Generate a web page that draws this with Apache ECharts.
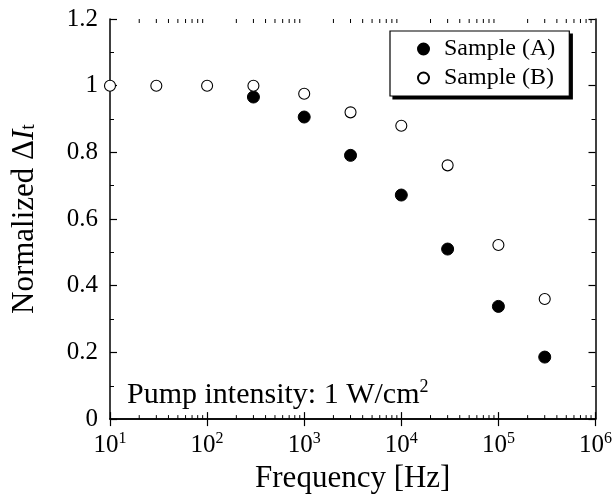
<!DOCTYPE html>
<html><head><meta charset="utf-8">
<script src="https://cdn.jsdelivr.net/npm/echarts@6/dist/echarts.min.js"></script>
<style>html,body{margin:0;padding:0;background:#fff}#c{width:615px;height:499px}</style>
</head><body><div id="c"></div>
<script>
const freqA = [300, 1000, 3000, 10000, 30000, 100000, 300000];
const valuesA = [0.966, 0.906, 0.791, 0.672, 0.51, 0.338, 0.186];
const freqB = [10, 30, 100, 300, 1000, 3000, 10000, 30000, 100000, 300000];
const valuesB = [1.0, 1.0, 1.0, 1.0, 0.976, 0.92, 0.88, 0.761, 0.522, 0.36];
const xMin = 10, xMax = 1000000;
const yTicks = ['0', '0.2', '0.4', '0.6', '0.8', '1', '1.2'];
// minor tick positions on the log axis (2..9 in each decade)
const minorMults = [2, 3, 4, 5, 6, 7, 8, 9];
const decades = [10, 100, 1000, 10000, 100000];
const minorTicks = [];
decades.forEach(d => minorMults.forEach(m => minorTicks.push(m * d)));

const FONT = 'Liberation Serif';
const chart = echarts.init(document.getElementById('c'));
const axisCommon = {
  axisLine: {show: true, lineStyle: {color: '#000', width: 1.5}},
  splitLine: {show: false},
};
chart.setOption({
  backgroundColor: '#fff',
  animation: false,
  grid: {left: 110, right: 18, top: 19, bottom: 76, containLabel: false},
  legend: {
    data: ['Sample (A)', 'Sample (B)'],
    orient: 'vertical',
    left: 390, top: 31,
    padding: [6, 14, 6, 27],
    itemGap: 5,
    itemWidth: 11, itemHeight: 11,
    backgroundColor: '#fff',
    borderColor: '#000', borderWidth: 1.2,
    textStyle: {fontFamily: FONT, fontSize: 24, color: '#000', padding: [0, 0, 0, 10]}
  },
  xAxis: [
    Object.assign({}, axisCommon, {
      type: 'log', min: xMin, max: xMax, logBase: 10,
      name: 'Frequency [Hz]', nameLocation: 'middle', nameGap: 35,
      nameTextStyle: {fontFamily: FONT, fontSize: 31, color: '#000'},
      axisTick: {show: true, inside: true, length: 7, lineStyle: {color: '#000', width: 1.2}},
      axisLabel: {
        margin: 12, color: '#000',
        formatter: v => '{b|10}{s|' + Math.round(Math.log10(v)) + '}',
        rich: {
          b: {fontFamily: FONT, fontSize: 25, color: '#000'},
          s: {fontFamily: FONT, fontSize: 16, color: '#000', padding: [0, 0, 13, 0]}
        }
      }
    }),
    Object.assign({}, axisCommon, {
      type: 'log', min: xMin, max: xMax, logBase: 10, position: 'top',
      axisTick: {show: true, inside: true, length: 7, lineStyle: {color: '#000', width: 1.2}},
      axisLabel: {show: false}
    })
  ],
  yAxis: [
    Object.assign({}, axisCommon, {
      type: 'value', min: 0, max: 1.2, interval: 0.2,
      name: '{a|Normalized Δ}{i|I}{t|t}', nameLocation: 'middle', nameGap: 70,
      nameTextStyle: {
        rich: {
          a: {fontFamily: FONT, fontSize: 31, color: '#000'},
          i: {fontFamily: FONT, fontSize: 31, color: '#000', fontStyle: 'italic'},
          t: {fontFamily: FONT, fontSize: 20, color: '#000', padding: [0, 0, -8, 0]}
        }
      },
      axisTick: {show: true, inside: true, length: 7, lineStyle: {color: '#000', width: 1.2}},
      minorTick: {show: true, splitNumber: 2, length: 4, lineStyle: {color: '#000', width: 1}},
      axisLabel: {
        margin: 12, color: '#000', fontFamily: FONT, fontSize: 25,
        formatter: (v) => yTicks[Math.round(v / 0.2)]
      }
    }),
    Object.assign({}, axisCommon, {
      type: 'value', min: 0, max: 1.2, interval: 0.2, position: 'right',
      axisTick: {show: true, inside: true, length: 7, lineStyle: {color: '#000', width: 1.2}},
      minorTick: {show: true, splitNumber: 2, length: 4, lineStyle: {color: '#000', width: 1}},
      axisLabel: {show: false}
    })
  ],
  graphic: [{
    type: 'text', left: 127, top: 378,
    style: {
      text: '{a|Pump intensity: 1 W/cm}{s|2}',
      rich: {
        a: {fontFamily: FONT, fontSize: 30, fill: '#000'},
        s: {fontFamily: FONT, fontSize: 18, fill: '#000', padding: [0, 0, 16, 0]}
      }
    }
  }],
  series: [
    {
      name: 'Sample (A)', type: 'scatter', xAxisIndex: 0, yAxisIndex: 0,
      symbol: 'circle', symbolSize: 12,
      itemStyle: {color: '#000', borderColor: '#000', borderWidth: 1, opacity: 1},
      data: freqA.map((f, i) => [f, valuesA[i]]), z: 3
    },
    {
      name: 'Sample (B)', type: 'scatter', xAxisIndex: 0, yAxisIndex: 0,
      symbol: 'circle', symbolSize: 11,
      itemStyle: {color: '#fff', borderColor: '#000', borderWidth: 1.1, opacity: 1},
      data: freqB.map((f, i) => [f, valuesB[i]]), z: 3
    },
    {
      name: 'minorTicks', type: 'custom', xAxisIndex: 0, yAxisIndex: 0,
      silent: true, clip: false,
      data: minorTicks.map(v => [v, 0]),
      renderItem: (params, api) => {
        const p = api.coord([api.value(0), 0]);
        const cs = params.coordSys;
        const top = cs.y, bot = cs.y + cs.height;
        return {
          type: 'group', children: [
            {type: 'line', shape: {x1: p[0], y1: bot, x2: p[0], y2: bot - 4}, style: {stroke: '#000', lineWidth: 1}},
            {type: 'line', shape: {x1: p[0], y1: top, x2: p[0], y2: top + 4}, style: {stroke: '#000', lineWidth: 1}}
          ]
        };
      },
      z: 2
    }
  ]
});
// legend drop shadow: a solid black box offset behind the legend
const lg = chart.getModel().getComponent('legend');
const lv = chart.getViewOfComponentModel(lg);
const r = lv.group.getBoundingRect();
const gx = lv.group.x, gy = lv.group.y;
chart.setOption({graphic: [{}, {
  type: 'rect', z: 3, silent: true,
  shape: {x: gx + r.x + 3, y: gy + r.y + 3, width: r.width, height: r.height},
  style: {fill: '#000'}
}]});
</script></body></html>
